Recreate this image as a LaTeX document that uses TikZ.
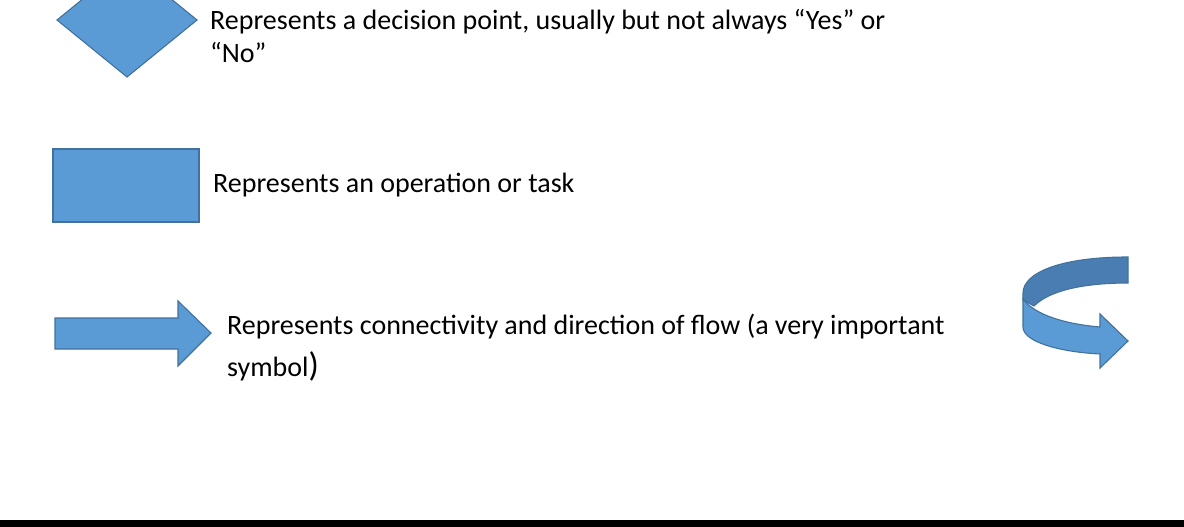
\documentclass[tikz,border=0pt]{standalone}
\usepackage{fontspec}
\setmainfont{Carlito}
\definecolor{fillblue}{HTML}{5B9BD5}
\definecolor{edgeblue}{HTML}{41719C}
\definecolor{darkblue}{HTML}{4A7EB3}
\begin{document}
\begin{tikzpicture}[x=1pt,y=-1pt,
  shapestyle/.style={fill=fillblue,draw=edgeblue,line width=1.1pt,line join=miter},
  label/.style={anchor=base west,inner sep=0pt,font=\fontsize{28}{33}\selectfont,text=black}]
\useasboundingbox (0,0) rectangle (1184,527);
\fill[white] (0,0) rectangle (1184,527);
\fill[black] (0,520) rectangle (1184,527);
% diamond
\draw[shapestyle] (57,20) -- (127,-37) -- (197,20) -- (127,77) -- cycle;
% rectangle
\draw[shapestyle] (53,149) rectangle (199,222);
% block arrow
\draw[shapestyle] (55,318) -- (178,318) -- (178,301) -- (211,333) -- (178,366) -- (178,349) -- (55,349) -- cycle;
% curved arrow
\draw[shapestyle,fill=darkblue] (1128,257) .. controls (1060,257) and (1023,273) .. (1023,293)
  -- (1023,300) -- (1034,306) .. controls (1050,290) and (1085,283) .. (1128,283) -- cycle;
\draw[shapestyle] (1023,299) .. controls (1035,315) and (1065,324) .. (1100,327)
  -- (1100,314) -- (1128,341) -- (1100,368) -- (1100,354)
  .. controls (1060,352) and (1023,342) .. (1023,327) -- cycle;
% texts
\node[label] (t1a) at (210,30) {Represents a decision point, usually but not always “Yes” or};
\node[label] (t1b) at (210,63) {“No”};
\node[label] (t2) at (213,192) {Represents an operation or task};
\node[label] (t3a) at (227,334) {Represents connectivity and direction of flow (a very important};
\node[label] (t3b) at (227,376) {symbol{\fontsize{34}{34}\selectfont)}};
\end{tikzpicture}
\end{document}
